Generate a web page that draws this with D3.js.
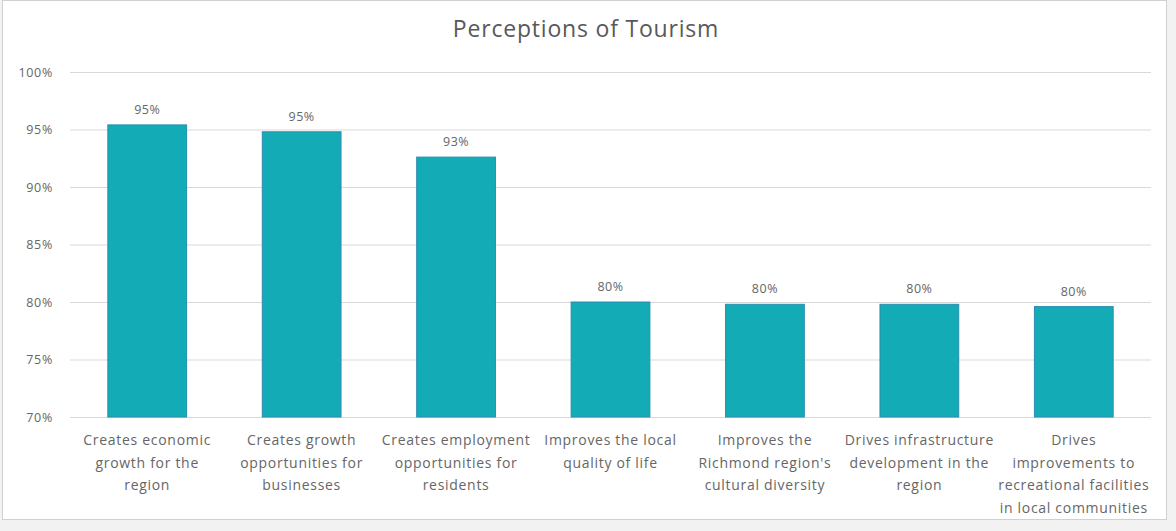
<!DOCTYPE html>
<html>
<head>
<meta charset="utf-8">
<script src="https://cdn.jsdelivr.net/npm/d3@7"></script>
<style>
  body { margin: 0; background: #f2f2f2; }
  #chart { width: 1176px; height: 531px; }
</style>
</head>
<body>
<div id="chart"></div>
<script>
// Chart data
const categories = [
    "Creates economic\ngrowth for the\nregion",
    "Creates growth\nopportunities for\nbusinesses",
    "Creates employment\nopportunities for\nresidents",
    "Improves the local\nquality of life",
    "Improves the\nRichmond region's\ncultural diversity",
    "Drives infrastructure\ndevelopment in the\nregion",
    "Drives\nimprovements to\nrecreational facilities\nin local communities"
];
const values = [0.954, 0.948, 0.926, 0.800, 0.798, 0.798, 0.796];
const valueLabels = ["95%", "95%", "93%", "80%", "80%", "80%", "80%"];
const yTicks = [0.70, 0.75, 0.80, 0.85, 0.90, 0.95, 1.00];

const W = 1176, H = 531;
const margin = { top: 72, right: 25, bottom: 115, left: 70 };
const font = "'Open Sans', sans-serif";
const textColor = "#666";

const svg = d3.select("#chart")
    .append("svg")
    .attr("width", W)
    .attr("height", H)
    .style("font-family", font);

// white chart area with a light border
svg.append("rect")
    .attr("x", 2.5).attr("y", 0.5)
    .attr("width", 1164).attr("height", 519)
    .attr("fill", "#fff")
    .attr("stroke", "#d0d0d0");

svg.append("text")
    .attr("x", 586).attr("y", 37)
    .attr("text-anchor", "middle")
    .style("font-size", "23px")
    .style("letter-spacing", "0.8px")
    .attr("fill", "#595959")
    .text("Perceptions of Tourism");

const x = d3.scaleBand()
    .domain(categories)
    .range([margin.left, W - margin.right])
    .paddingInner(0.49)
    .paddingOuter(0.245);

const y = d3.scaleLinear()
    .domain([0.70, 1.00])
    .range([H - margin.bottom + 1, margin.top]);

// gridlines + y labels
const yAxis = svg.append("g")
    .attr("transform", `translate(${margin.left},0)`)
    .call(d3.axisLeft(y)
        .tickValues(yTicks)
        .tickFormat(d3.format(".0%"))
        .tickSize(-(W - margin.left - margin.right))
        .tickPadding(17));
yAxis.select(".domain").remove();
yAxis.selectAll("line").attr("stroke", "#d9d9d9").attr("stroke-width", 1.2);
yAxis.selectAll("text")
    .attr("fill", textColor)
    .style("font-size", "12.5px")
    .style("letter-spacing", "0.7px")
    .style("font-family", font);

// bars
svg.selectAll(".bar")
    .data(categories)
    .enter()
    .append("rect")
    .attr("class", "bar")
    .attr("x", d => x(d))
    .attr("width", x.bandwidth())
    .attr("y", (d, i) => y(values[i]))
    .attr("height", (d, i) => y(0.70) - y(values[i]))
    .attr("fill", "#13abb6")
    .attr("stroke", "#2a8db0")
    .attr("stroke-width", 1);

// value labels
svg.selectAll(".label")
    .data(categories)
    .enter()
    .append("text")
    .attr("class", "label")
    .attr("x", d => x(d) + x.bandwidth() / 2)
    .attr("y", (d, i) => y(values[i]) - 11)
    .attr("text-anchor", "middle")
    .attr("fill", textColor)
    .style("font-size", "12.5px")
    .style("letter-spacing", "0.5px")
    .text((d, i) => valueLabels[i]);

// category labels (multi-line)
const cat = svg.selectAll(".cat")
    .data(categories)
    .enter()
    .append("text")
    .attr("class", "cat")
    .attr("text-anchor", "middle")
    .attr("fill", textColor)
    .style("font-size", "14px")
    .style("letter-spacing", "0.7px");
cat.each(function (d) {
    const t = d3.select(this);
    d.split("\n").forEach((line, k) => {
        t.append("tspan")
            .attr("x", x(d) + x.bandwidth() / 2)
            .attr("y", 445 + k * 22.5)
            .text(line);
    });
});
</script>
</body>
</html>
